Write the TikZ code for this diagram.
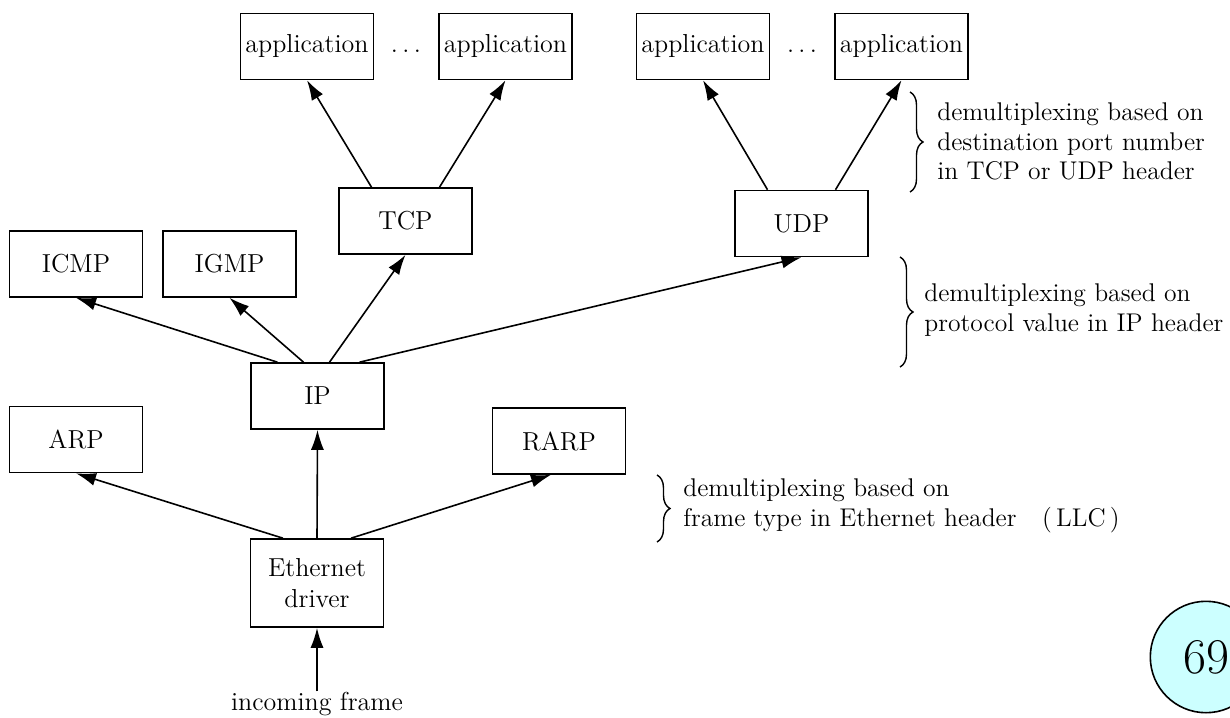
\documentclass[tikz,border=0pt]{standalone}
\usepackage{tikz}
\usetikzlibrary{arrows.meta,decorations.pathreplacing}

\definecolor{pagecyan}{RGB}{204,255,255}

\tikzset{
  layerbox/.style={draw, line width=0.8pt, minimum width=66.5pt, minimum height=33pt,
    inner sep=0pt, font=\fontsize{13}{15.5}\selectfont},
  plaintext/.style={inner sep=0pt, font=\fontsize{13}{15}\selectfont},
  uparrow/.style={line width=0.8pt, -{Latex[length=10pt,width=6.5pt]}},
  demuxbrace/.style={line width=0.7pt, decorate, decoration={brace, amplitude=6.5pt}},
  demuxnote/.style={inner sep=0pt, anchor=west, align=left, font=\fontsize{12.8}{14.8}\selectfont},
}

\newcommand{\appdots}{.\hspace{2.2pt}.\hspace{2.2pt}.}

\begin{document}
\begin{tikzpicture}[x=0.5pt, y=-0.5pt]
  \useasboundingbox (0,0) rectangle (1230,717);

  % Applications on top of TCP and UDP
  \node[layerbox] (appa) at (307,46.5)   {application};
  \node[layerbox] (appb) at (505.5,46.5) {application};
  \node[layerbox] (appc) at (703,46.5)   {application};
  \node[layerbox] (appd) at (901.5,46.5) {application};
  \node[plaintext] (dotsa) at (406,51) {\appdots};
  \node[plaintext] (dotsb) at (802,51) {\appdots};

  % Transport layer
  \node[layerbox] (tcp) at (405.5,221) {TCP};
  \node[layerbox] (udp) at (801.5,223.5) {UDP};

  % Network layer
  \node[layerbox] (icmp) at (76,264)    {ICMP};
  \node[layerbox] (igmp) at (229.5,264) {IGMP};
  \node[layerbox] (ip)   at (317.5,396) {IP};

  % Link layer
  \node[layerbox] (arp)  at (76,439.5) {ARP};
  \node[layerbox] (rarp) at (559,441)  {RARP};
  \node[layerbox, minimum height=44pt, align=center] (eth) at (317,583) {Ethernet\\driver};
  \node[plaintext, anchor=base] (inframe) at (317,710) {incoming frame};

  % Demultiplexing arrows
  \draw[uparrow] (inframe.north) -- (eth.south);

  \draw[uparrow] ([xshift=-17pt]eth.north) -- (arp.south);
  \draw[uparrow] (eth.north) -- (ip.south);
  \draw[uparrow] ([xshift=17pt]eth.north) -- ([xshift=-4pt]rarp.south);

  \draw[uparrow] ([xshift=-20pt]ip.north) -- (icmp.south);
  \draw[uparrow] ([xshift=-7pt]ip.north)  -- (igmp.south);
  \draw[uparrow] ([xshift=6pt]ip.north)   -- (tcp.south);
  \draw[uparrow] ([xshift=21pt]ip.north)  -- (udp.south);

  \draw[uparrow] ([xshift=-17pt]tcp.north) -- (appa.south);
  \draw[uparrow] ([xshift=17pt]tcp.north)  -- (appb.south);
  \draw[uparrow] ([xshift=-17pt]udp.north) -- (appc.south);
  \draw[uparrow] ([xshift=17pt]udp.north)  -- (appd.south);

  % Braces with the notes
  \draw[demuxbrace] (910,92) -- (910,192);
  \node[demuxnote] (noteport) at (937,141.5)
    {demultiplexing based on\\destination port number\\in TCP or UDP header};

  \draw[demuxbrace] (900,257) -- (900,367);
  \node[demuxnote] (noteproto) at (924,310)
    {demultiplexing based on\\protocol value in IP header};

  \draw[demuxbrace] (657,475) -- (657,542);
  \node[demuxnote] (noteframe) at (683,506)
    {demultiplexing based on\\frame type in Ethernet header\quad(\,LLC\,)};

  % Page number
  \node[circle, draw, line width=0.8pt, fill=pagecyan, minimum size=55.7pt, inner sep=0pt,
    font=\fontsize{25}{30}\selectfont] (pagenum) at (1206,657) {69};
\end{tikzpicture}
\end{document}
